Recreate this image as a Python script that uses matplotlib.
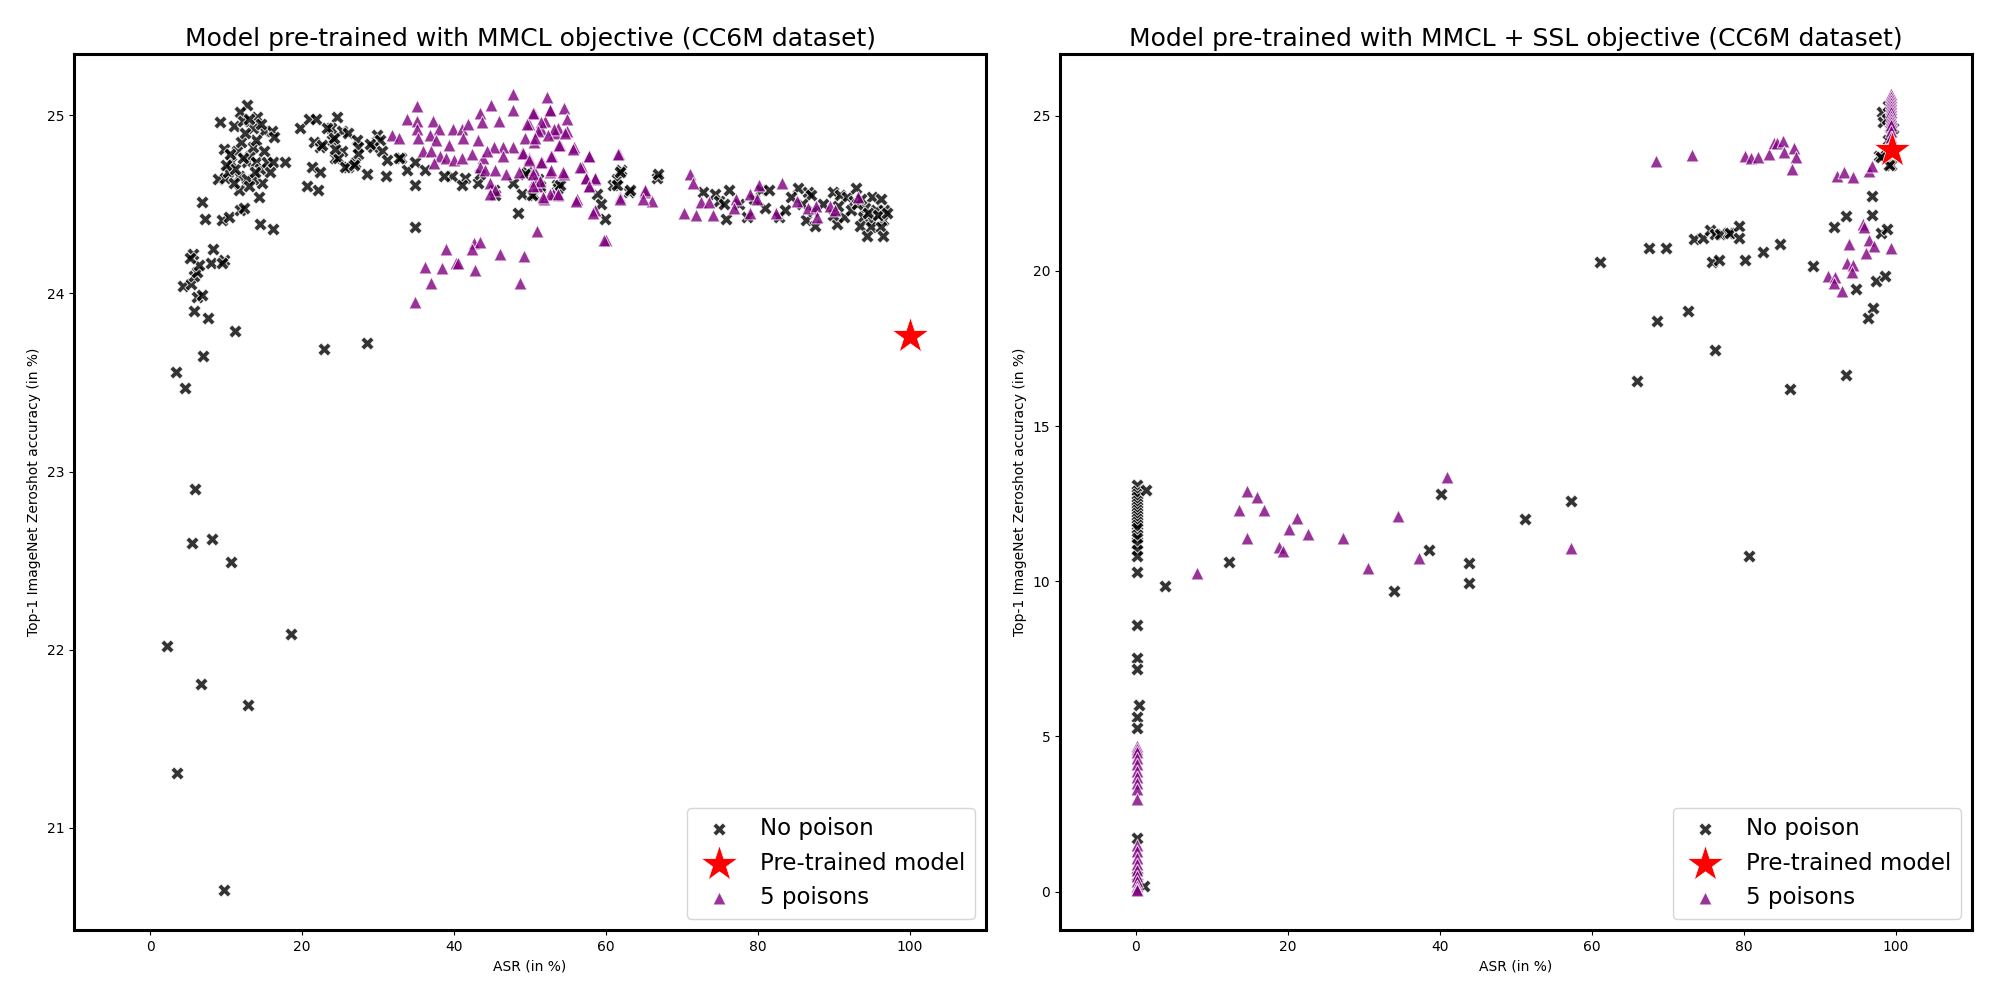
import numpy as np
import matplotlib
matplotlib.use("Agg")
import matplotlib.pyplot as plt

# ---- data (ASR %, top-1 zeroshot acc %) ----
# MMCL objective: no poison
mmcl_clean = [
    (2.2, 22.02), (3.5, 21.31), (9.7, 20.65), (6.7, 21.81), (12.9, 21.69), (18.6, 22.09),
    (5.9, 22.90), (5.5, 22.60), (8.2, 22.62), (10.6, 22.49), (3.4, 23.56), (4.6, 23.47),
    (7.0, 23.65), (11.2, 23.79), (22.9, 23.69), (28.5, 23.72),
    (5.8, 23.90), (7.6, 23.86), (4.3, 24.04), (6.2, 23.98), (5.4, 24.05), (6.8, 23.99),
    (5.8, 24.10), (6.2, 24.12), (6.45, 24.16), (8.0, 24.17), (5.6, 24.22), (5.2, 24.20),
    (8.3, 24.25), (9.7, 24.19), (9.5, 24.17), (7.3, 24.42), (9.5, 24.41),
    (12.8, 25.06), (11.9, 25.02), (11.0, 24.94), (13.5, 24.93), (15.0, 24.91), (16.1, 24.91),
    (16.3, 24.88), (14.1, 24.99), (12.3, 24.97), (13.0, 24.98), (14.6, 24.95), (9.2, 24.96),
    (9.7, 24.81), (8.9, 24.64), (9.9, 24.65), (10.2, 24.68), (10.7, 24.74), (11.5, 24.80),
    (11.7, 24.66), (11.7, 24.58), (12.8, 24.74), (13.2, 24.77), (13.6, 24.82), (13.9, 24.74),
    (14.5, 24.70), (14.7, 24.62), (13.6, 24.64), (12.8, 24.64), (15.4, 24.74), (16.2, 24.74),
    (17.8, 24.74), (14.3, 24.54), (6.9, 24.51), (10.4, 24.43), (11.9, 24.47),
    (12.4, 24.48), (14.5, 24.39), (16.2, 24.36), (10.5, 24.78), (12.0, 24.85), (11.2, 24.70),
    (13.0, 24.60), (14.0, 24.86), (15.0, 24.80), (12.5, 24.90), (10.0, 24.72), (11.0, 24.62),
    (12.2, 24.76), (13.8, 24.68), (15.8, 24.68),
    (19.8, 24.93), (20.9, 24.98), (21.8, 24.98), (21.6, 24.85), (22.4, 24.82), (24.0, 24.86),
    (24.6, 24.99), (23.8, 24.93), (25.2, 24.91), (26.1, 24.90), (27.2, 24.86), (27.4, 24.82),
    (27.4, 24.78), (25.2, 24.80), (24.3, 24.76), (24.7, 24.76), (26.1, 24.71), (27.0, 24.73),
    (21.3, 24.71), (22.4, 24.68), (20.6, 24.60), (22.1, 24.58), (28.6, 24.67), (23.3, 24.93),
    (24.4, 24.81), (25.7, 24.71), (26.8, 24.72), (22.6, 24.83), (24.2, 24.87),
    (29.9, 24.89), (30.3, 24.86), (29.4, 24.82), (28.9, 24.84), (30.5, 24.80), (31.2, 24.75),
    (31.0, 24.66), (33.0, 24.76), (33.8, 24.69), (34.9, 24.74), (34.9, 24.61), (34.9, 24.37),
    (36.2, 24.69), (39.7, 24.66), (38.7, 24.66), (32.8, 24.76),
    (41.5, 24.65), (41.0, 24.61), (43.2, 24.62), (43.4, 24.67), (45.2, 24.58), (45.4, 24.55),
    (47.8, 24.62), (48.9, 24.56), (49.6, 24.68), (50.5, 24.55), (51.3, 24.59), (53.5, 24.61),
    (53.7, 24.59), (48.4, 24.45), (58.8, 24.56), (59.4, 24.50), (59.9, 24.42), (60.9, 24.61),
    (61.4, 24.64), (62.0, 24.69), (63.0, 24.57), (66.7, 24.65), (49.4, 24.67), (51.1, 24.64),
    (53.9, 24.61), (50.2, 24.55), (51.3, 24.60), (66.8, 24.67), (61.8, 24.68),
    (61.5, 24.61), (63.1, 24.58),
    (72.8, 24.57), (74.3, 24.56), (74.9, 24.52), (75.8, 24.42), (76.2, 24.58), (75.5, 24.50),
    (78.5, 24.43), (79.5, 24.53), (80.4, 24.58), (80.9, 24.48), (81.5, 24.58), (82.7, 24.43),
    (85.3, 24.59), (86.6, 24.57), (87.0, 24.55), (84.4, 24.54), (86.3, 24.41), (87.5, 24.38),
    (87.2, 24.46), (89.8, 24.57), (90.8, 24.55), (91.7, 24.54), (92.6, 24.52), (90.4, 24.39),
    (89.9, 24.44), (91.3, 24.43), (95.0, 24.54), (96.2, 24.53), (94.1, 24.48), (95.5, 24.47),
    (96.6, 24.47), (93.8, 24.43), (95.0, 24.41), (96.4, 24.41), (93.4, 24.38), (94.8, 24.37),
    (96.2, 24.37), (94.4, 24.32), (96.4, 24.32), (92.2, 24.47), (92.9, 24.59), (90.5, 24.49),
    (77.5, 24.50), (83.5, 24.47), (88.5, 24.50), (85.8, 24.50), (93.0, 24.50), (94.5, 24.45),
    (95.8, 24.44), (97.0, 24.45), (93.5, 24.53),
]

# MMCL objective: 5 poisons
mmcl_poison = [
    (35.1, 25.05), (33.8, 24.98), (35.1, 24.97), (35.1, 24.92), (31.8, 24.89), (32.7, 24.87),
    (35.3, 24.87), (37.2, 24.97), (38.0, 24.92), (36.9, 24.89), (39.9, 24.92), (41.0, 24.92),
    (41.9, 24.95), (43.4, 25.01), (43.7, 24.96), (44.8, 25.06), (45.9, 24.97), (47.7, 25.12),
    (47.8, 25.03), (50.5, 25.01), (52.2, 25.10), (52.6, 25.03), (54.5, 25.04), (54.8, 24.98),
    (49.9, 24.95), (52.0, 24.97), (53.7, 24.93), (54.9, 24.91), (51.5, 24.92), (53.3, 24.90),
    (50.5, 24.85), (49.4, 24.87), (47.8, 24.82), (46.5, 24.82), (45.2, 24.82), (43.2, 24.86),
    (41.2, 24.87), (39.4, 24.83), (37.6, 24.86), (35.9, 24.80), (37.0, 24.80), (38.1, 24.77),
    (39.0, 24.76), (40.0, 24.75), (41.0, 24.76), (42.3, 24.78), (43.8, 24.76), (44.3, 24.80),
    (46.5, 24.77), (48.9, 24.79), (49.9, 24.76), (51.6, 24.74), (52.9, 24.77), (54.0, 24.83),
    (55.8, 24.82), (37.4, 24.73), (43.4, 24.71), (44.1, 24.69), (45.4, 24.69), (46.9, 24.67),
    (48.5, 24.68), (50.5, 24.69), (52.6, 24.68), (54.5, 24.67), (56.8, 24.71), (57.8, 24.77),
    (61.7, 24.78), (57.4, 24.65), (58.6, 24.64), (57.8, 24.60), (44.7, 24.62), (45.4, 24.58),
    (44.7, 24.56), (50.9, 24.60), (50.5, 24.63), (53.0, 24.56), (53.7, 24.55), (51.8, 24.53),
    (56.2, 24.53), (61.8, 24.54), (65.1, 24.57), (66.1, 24.52), (58.6, 24.47), (60.0, 24.30),
    (50.9, 24.35), (38.9, 24.25), (42.6, 24.28), (43.4, 24.29), (42.3, 24.25), (46.1, 24.22),
    (49.2, 24.21), (34.8, 23.95), (37.0, 24.06), (36.2, 24.15), (38.4, 24.14), (40.2, 24.17),
    (40.5, 24.17), (42.7, 24.13), (48.7, 24.06),
    (50.4, 25.01), (52.6, 25.03), (51.5, 24.96), (49.6, 24.95), (53.1, 24.92), (51.1, 24.91),
    (54.6, 24.90), (50.7, 24.87), (52.4, 24.89), (53.8, 24.83), (55.6, 24.81), (52.8, 24.77),
    (51.5, 24.74), (49.1, 24.79), (49.8, 24.75), (52.8, 24.69), (54.4, 24.68), (50.4, 24.67),
    (51.3, 24.63), (50.4, 24.60), (52.6, 24.56), (53.7, 24.56), (51.7, 24.54),
    (57.7, 24.77), (61.6, 24.78), (56.6, 24.71), (58.6, 24.65), (57.3, 24.65), (57.7, 24.60),
    (56.1, 24.52), (58.3, 24.45), (61.8, 24.53), (65.1, 24.58), (64.9, 24.53), (59.7, 24.30),
    (71.0, 24.67), (71.4, 24.62), (72.5, 24.51), (73.6, 24.51), (70.3, 24.45), (71.8, 24.44),
    (74.1, 24.44), (77.1, 24.53), (76.9, 24.48), (78.9, 24.56), (80.1, 24.61), (79.8, 24.53),
    (78.9, 24.45), (82.3, 24.45), (83.2, 24.62), (85.1, 24.52), (86.6, 24.48), (87.6, 24.49),
    (87.7, 24.43), (89.5, 24.49), (90.1, 24.47), (93.1, 24.54),
]

# MMCL + SSL objective: no poison
ssl_clean = [
    (0.1, 13.1), (0.1, 12.9), (0.1, 12.8), (0.1, 12.7), (0.1, 12.6), (0.1, 12.5), (0.1, 12.4),
    (0.1, 12.3), (0.1, 12.2), (0.1, 12.1), (0.1, 12.0), (0.1, 11.9), (0.1, 11.8), (0.1, 11.7),
    (0.1, 11.5), (0.1, 11.4), (0.1, 11.2), (0.1, 11.0), (0.1, 10.8), (0.1, 10.3), (0.1, 8.6),
    (0.1, 7.54), (0.1, 7.16), (0.4, 6.0), (0.1, 5.62), (0.1, 5.26), (0.1, 1.74), (0.1, 0.5),
    (1.3, 12.94), (3.8, 9.85), (1.0, 0.18),
    (12.3, 10.62), (33.9, 9.68), (38.5, 11.0), (40.2, 12.8), (43.8, 10.6), (43.8, 9.96),
    (51.2, 11.99), (57.3, 12.57), (80.7, 10.82),
    (61.0, 20.29), (67.5, 20.72), (69.7, 20.72), (73.4, 21.01), (74.6, 21.06), (75.5, 21.3),
    (76.2, 21.17), (76.8, 21.17), (77.9, 21.22), (78.1, 21.22), (79.4, 21.44), (79.3, 21.04),
    (75.8, 20.29), (76.7, 20.36), (80.1, 20.36), (82.5, 20.6), (84.7, 20.87), (68.5, 18.39),
    (72.6, 18.72), (76.25, 17.46), (65.9, 16.46), (86.0, 16.2), (93.4, 16.65), (89.1, 20.15),
    (91.9, 21.4), (93.4, 21.76), (96.8, 22.41), (96.8, 21.8), (98.0, 21.22), (98.8, 21.33),
    (97.4, 19.66), (98.5, 19.83), (94.8, 19.4), (97.0, 18.8), (96.3, 18.48),
    (98.2, 25.1), (98.3, 24.8), (99.2, 24.4), (99.0, 24.2), (99.5, 23.95), (98.5, 23.7),
    (99.3, 23.4), (97.8, 23.7), (98.8, 24.9), (99.6, 24.6), (99.0, 25.3), (98.0, 23.65),
    (99.1, 23.4),
]

# MMCL + SSL objective: 5 poisons
ssl_poison = [
    (0.1, 4.7), (0.1, 4.6), (0.1, 4.5), (0.1, 4.3), (0.1, 4.1), (0.1, 3.9), (0.1, 3.7),
    (0.1, 3.5), (0.1, 3.3), (0.1, 3.0), (0.1, 1.5), (0.1, 1.3), (0.1, 1.1), (0.1, 0.9),
    (0.1, 0.7), (0.1, 0.5), (0.1, 0.35), (0.1, 0.2), (0.1, 0.1), (0.1, 0.05),
    (8.0, 10.25), (14.6, 12.9), (15.9, 12.72), (13.5, 12.3), (16.9, 12.3), (21.2, 12.04),
    (20.1, 11.68), (22.7, 11.53), (14.6, 11.40), (18.8, 11.1), (19.3, 10.98), (27.2, 11.4),
    (30.5, 10.43), (34.5, 12.1), (37.3, 10.75), (40.9, 13.37), (57.2, 11.07),
    (68.4, 23.54), (73.1, 23.73), (80.1, 23.7), (80.9, 23.62), (81.8, 23.67), (83.3, 23.75),
    (84.0, 24.13), (84.4, 24.1), (85.1, 24.18), (85.3, 23.84), (86.6, 23.95), (86.9, 23.65),
    (86.3, 23.27), (92.2, 23.05), (93.2, 23.19), (94.4, 23.02), (96.4, 23.22), (96.8, 23.38),
    (99.3, 25.7), (99.3, 25.6), (99.3, 25.5), (99.3, 25.4), (99.3, 25.3), (99.3, 25.2),
    (99.3, 25.1), (99.3, 25.0), (99.3, 24.9), (99.3, 24.8), (99.3, 24.7), (99.3, 24.5),
    (99.3, 24.3), (99.3, 24.1),
    (95.6, 21.5), (95.8, 21.4), (93.8, 20.85), (96.5, 21.0), (97.1, 20.8), (99.4, 20.74),
    (96.1, 20.58), (93.5, 20.26), (94.4, 20.2), (94.2, 19.97), (91.0, 19.83), (92.0, 19.79),
    (91.8, 19.61), (92.9, 19.34),
]

# pre-trained model (no fine-tuning)
mmcl_pretrained = (100.0, 23.76)
ssl_pretrained = (99.5, 23.9)

titles = ["Model pre-trained with MMCL objective (CC6M dataset)",
          "Model pre-trained with MMCL + SSL objective (CC6M dataset)"]

panels = [(mmcl_clean, mmcl_poison, mmcl_pretrained),
          (ssl_clean, ssl_poison, ssl_pretrained)]

fig, axes = plt.subplots(1, 2, figsize=(20, 10), dpi=100)
plt.subplots_adjust(left=0.037, right=0.986, bottom=0.07, top=0.946, wspace=0.081)

for ax, title, (clean, poison, pre) in zip(axes, titles, panels):
    clean = np.array(clean)
    poison = np.array(poison)
    ax.scatter(clean[:, 0], clean[:, 1], marker="X", s=90, c="black", alpha=0.8,
               edgecolors="white", linewidths=0.7, label="No poison", zorder=2)
    ax.scatter(poison[:, 0], poison[:, 1], marker="^", s=85, c="purple", alpha=0.8,
               edgecolors="white", linewidths=0.7, label="5 poisons", zorder=2)
    ax.scatter([pre[0]], [pre[1]], marker="*", s=750, c="red",
               edgecolors="white", linewidths=0.5, label="Pre-trained model", zorder=3)
    ax.set_xlim(-10, 110)
    ax.set_title(title, fontsize=18)
    ax.set_xlabel("ASR (in %)")
    ax.set_ylabel("Top-1 ImageNet Zeroshot accuracy (in %)")
    for sp in ax.spines.values():
        sp.set_linewidth(2.2)
    h, l = ax.get_legend_handles_labels()
    order = [0, 2, 1]
    ax.legend([h[i] for i in order], [l[i] for i in order], loc="lower right", fontsize=16.5)

fig.savefig("out.png")
